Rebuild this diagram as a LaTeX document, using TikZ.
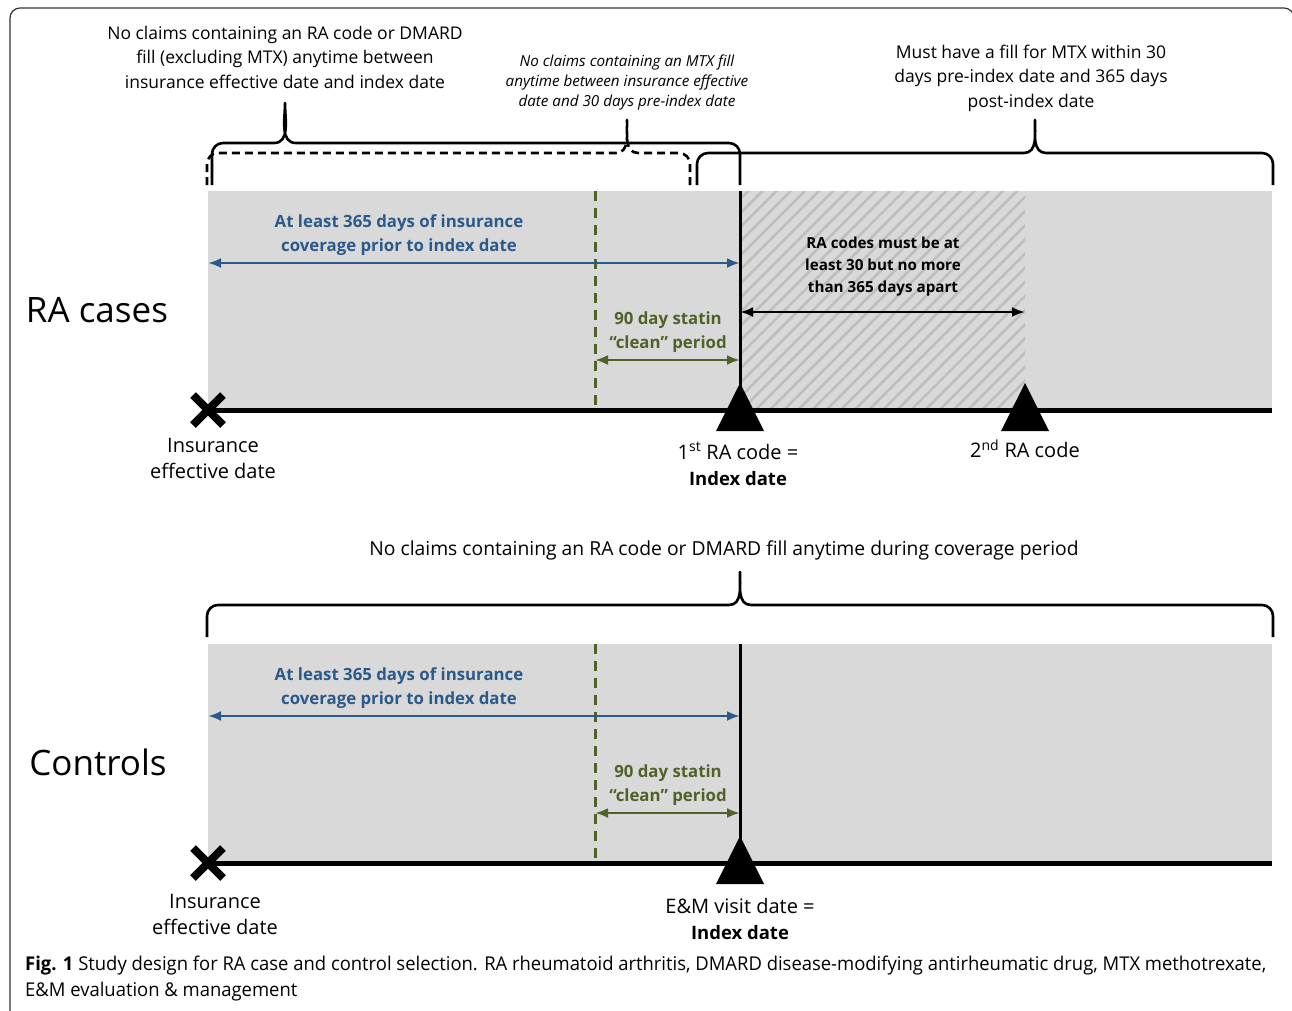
\documentclass[tikz,border=0pt]{standalone}
\usepackage{fontspec}
\setmainfont{Open Sans}
\newfontfamily\capfont{Open Sans}[FakeStretch=0.97]
\usepackage{xcolor}
\usetikzlibrary{arrows.meta,positioning,patterns.meta,shapes.misc}
\definecolor{rablue}{HTML}{2B5A8A}
\definecolor{raolive}{HTML}{4F6228}
\definecolor{raband}{HTML}{D9D9D9}
\definecolor{rahatch}{HTML}{BEBEBE}
\newcommand{\tbrace}[7][]{%
  \draw[bracket,#1] (#2,#5) -- (#2,#6+11) to[out=90,in=180] (#2+11,#6)
    -- (#4-11,#6) to[out=0,in=-90] (#4,#7) to[out=-90,in=180] (#4+11,#6)
    -- (#3-11,#6) to[out=0,in=90] (#3,#6+11) -- (#3,#5);}

\begin{document}
\begin{tikzpicture}[
  x=1pt, y=-1pt,
  band/.style={fill=raband},
  hatch/.style={pattern={Lines[angle=45,distance=10pt,line width=2.6pt]}, pattern color=rahatch},
  axis/.style={line width=5pt},
  idxline/.style={line width=3pt},
  cutline/.style={raolive, line width=3pt, dash pattern=on 10pt off 7pt},
  bracket/.style={line width=2.6pt, line join=round},
  dbracket/.style={dash pattern=on 8pt off 5pt},
  blarr/.style={{Latex[length=13pt,width=10pt]}-{Latex[length=13pt,width=10pt]}, line width=2.6pt, rablue},
  grarr/.style={blarr, raolive},
  bkarr/.style={blarr, black},
  xmark/.style={cross out, draw, line width=8pt, minimum size=22pt, inner sep=0pt},
  note/.style={font=\fontsize{17.5}{24.5}\selectfont, align=center, inner sep=0pt},
  inote/.style={font=\fontsize{15.2}{20}\selectfont\itshape, align=center, inner sep=0pt},
  lbl/.style={font=\fontsize{20}{26}\selectfont, align=center, inner sep=0pt},
  bluelbl/.style={font=\fontsize{16.8}{24}\selectfont\bfseries, text=rablue, align=center, inner sep=0pt},
  greenlbl/.style={bluelbl, text=raolive},
  blacklbl/.style={font=\fontsize{15.2}{22}\selectfont\bfseries, align=center, inner sep=0pt},
  panel/.style={font=\fontsize{35}{40}\selectfont, inner sep=0pt},
  caption/.style={font=\capfont\fontsize{19}{26}\selectfont, align=left, inner sep=0pt},
]
\useasboundingbox (0,0) rectangle (1292,1010);
\draw[line width=1.2pt, black!80, rounded corners=10pt] (10,8) rectangle (1294,1030);

% --- RA cases ---
\coordinate (raIns) at (208,410);
\coordinate (raCut) at (595,410);
\coordinate (raIdx) at (740,410);
\coordinate (raSec) at (1025,410);
\coordinate (raEnd) at (1272,410);
\fill[band] (208,191) rectangle (raEnd);
\fill[hatch] (740,191) rectangle (raSec);
\draw[cutline] (raCut |- 0,191) -- (raCut);
\draw[idxline] (raIdx |- 0,191) -- (raIdx);
\draw[axis] (raIns) -- (raEnd);
\node[xmark] (raX) at (raIns) {};
\fill (raIdx) ++(0,-27) -- ++(24,48) -- ++(-48,0) -- cycle;
\fill (raSec) ++(0,-27) -- ++(24,48) -- ++(-48,0) -- cycle;

\draw[blarr] (raIns |- 0,263) -- (raIdx |- 0,263);
\draw[grarr] (raCut |- 0,360) -- (raIdx |- 0,360);
\draw[bkarr] (raIdx |- 0,312) -- (raSec |- 0,312);

\node[bluelbl] (raCov) at (399,235) {At least 365 days of insurance\\coverage prior to index date};
\node[greenlbl] (raClean) at (668,332) {90 day statin\\“clean” period};
\node[blacklbl] (raGap) at (883,267) {RA codes must be at\\least 30 but no more\\than 365 days apart};
\node[panel] (raName) at (97,310) {RA cases};
\node[lbl] (raInsLbl) at (213,458) {Insurance\\effective date};
\node[lbl] (raIdxLbl) at (738,464) {1\textsuperscript{st} RA code =\\\textbf{\fontsize{18.5}{26}\selectfont Index date}};
\node[lbl] (raSecLbl) at (1025,449) {2\textsuperscript{nd} RA code};

% --- RA brackets ---
\tbrace{212}{740}{285}{185}{143}{103}
\tbrace[dbracket]{207}{690}{627}{185}{153}{120}
\tbrace{697}{1273}{1035}{185}{153}{120}
\node[note] (raNoRA) at (285,57) {No claims containing an RA code or DMARD\\fill (excluding MTX) anytime between\\insurance effective date and index date};
\node[inote] (raNoMTX) at (627,83) {No claims containing an MTX fill\\anytime between insurance effective\\date and 30 days pre-index date};
\node[note] (raMTX) at (1031,78) {Must have a fill for MTX within 30\\days pre-index date and 365 days\\post-index date};

% --- Controls ---
\coordinate (ctIns) at (208,863);
\coordinate (ctCut) at (595,863);
\coordinate (ctIdx) at (740,863);
\coordinate (ctEnd) at (1272,863);
\fill[band] (208,644) rectangle (ctEnd);
\draw[cutline] (ctCut |- 0,644) -- (ctCut);
\draw[idxline] (ctIdx |- 0,644) -- (ctIdx);
\draw[axis] (ctIns) -- (ctEnd);
\node[xmark] (ctX) at (ctIns) {};
\fill (ctIdx) ++(0,-27) -- ++(24,48) -- ++(-48,0) -- cycle;

\draw[blarr] (ctIns |- 0,716) -- (ctIdx |- 0,716);
\draw[grarr] (ctCut |- 0,813) -- (ctIdx |- 0,813);

\node[bluelbl] (ctCov) at (399,688) {At least 365 days of insurance\\coverage prior to index date};
\node[greenlbl] (ctClean) at (668,785) {90 day statin\\“clean” period};
\node[panel] (ctName) at (98,762) {Controls};
\node[lbl] (ctInsLbl) at (215,914) {Insurance\\effective date};
\node[lbl] (ctIdxLbl) at (740,919) {E\&M visit date =\\\textbf{\fontsize{18.5}{26}\selectfont Index date}};

\tbrace{207}{1273}{740}{637}{605}{572}
\node[note, font=\fontsize{19.3}{24.5}\selectfont] (ctNoRA) at (724,550) {No claims containing an RA code or DMARD fill anytime during coverage period};

% --- Caption ---
\node[caption, anchor=west] (cap) at (25,978) {{\bfseries Fig. 1} Study design for RA case and control selection. RA rheumatoid arthritis, DMARD disease-modifying antirheumatic drug, MTX methotrexate,\\E\&M evaluation \& management};
\end{tikzpicture}
\end{document}
